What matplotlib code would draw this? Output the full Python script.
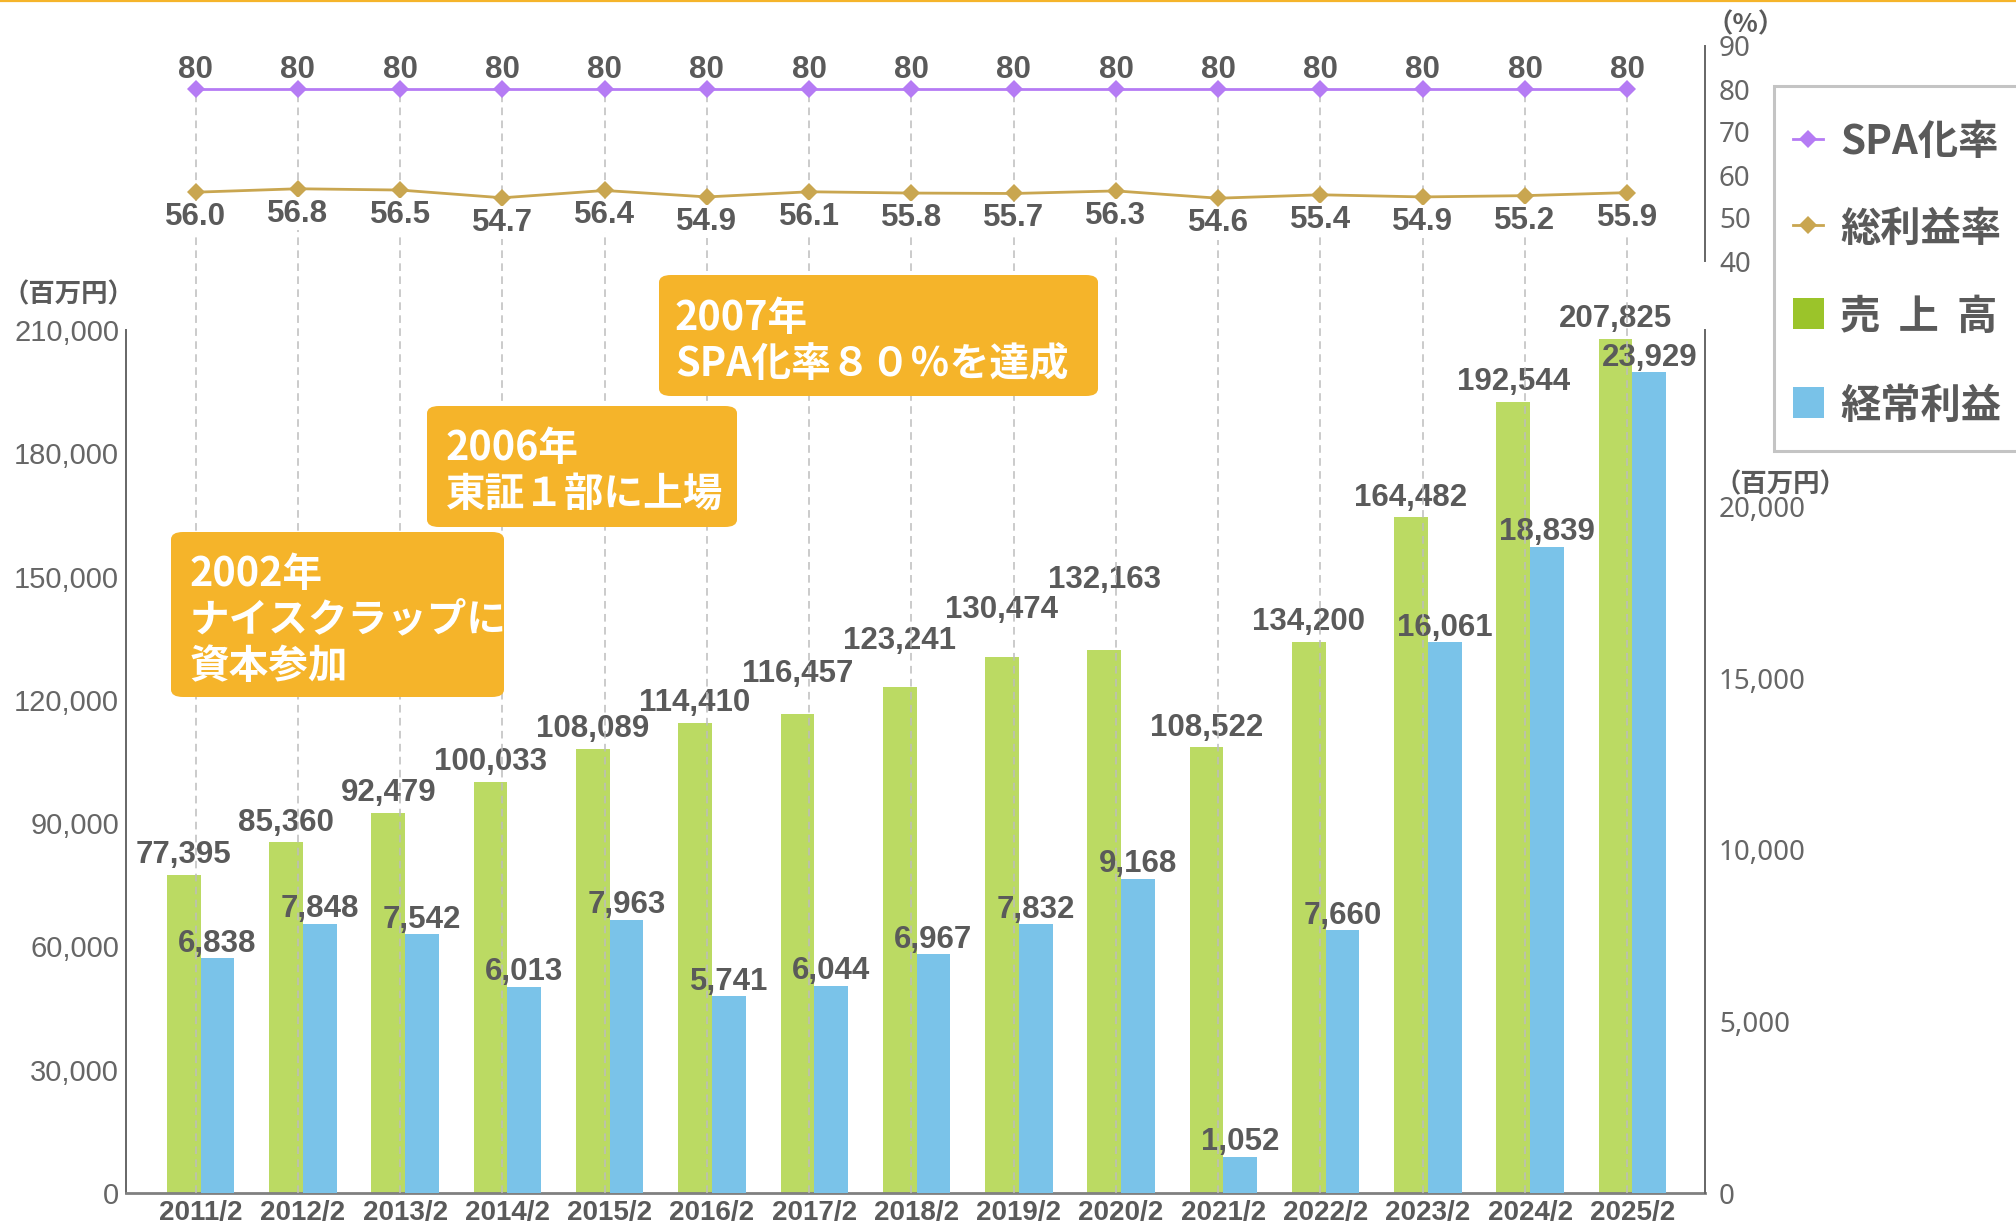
import matplotlib
matplotlib.use('Agg')
import matplotlib.pyplot as plt
from matplotlib.patches import FancyBboxPatch, Rectangle
from matplotlib.lines import Line2D
import numpy as np

# ---------------- data ----------------
categories = ['2011/2', '2012/2', '2013/2', '2014/2', '2015/2', '2016/2', '2017/2', '2018/2',
              '2019/2', '2020/2', '2021/2', '2022/2', '2023/2', '2024/2', '2025/2']
sales = [77395, 85360, 92479, 100033, 108089, 114410, 116457, 123241,
         130474, 132163, 108522, 134200, 164482, 192544, 207825]
ordinary_profit = [6838, 7848, 7542, 6013, 7963, 5741, 6044, 6967,
                   7832, 9168, 1052, 7660, 16061, 18839, 23929]
spa_ratio = [80, 80, 80, 80, 80, 80, 80, 80, 80, 80, 80, 80, 80, 80, 80]
gross_margin = [56.0, 56.8, 56.5, 54.7, 56.4, 54.9, 56.1, 55.8,
                55.7, 56.3, 54.6, 55.4, 54.9, 55.2, 55.9]
left_ticks = [0, 30000, 60000, 90000, 120000, 150000, 180000, 210000]
right_ticks = [0, 5000, 10000, 15000, 20000]
pct_ticks = [40, 50, 60, 70, 80, 90]
milestones = [['2002年', 'ナイスクラップに', '資本参加'],
              ['2006年', '東証１部に上場'],
              ['2007年', 'SPA化率８０％を達成']]
legend_labels = ['SPA化率', '総利益率', '売  上  高', '経常利益']

# ---------------- style / layout ----------------
W, H, DPI = 2016, 1225, 100
GREEN = '#BBDA63'
BLUE = '#7AC3E9'
PURPLE = '#B57BF4'
GOLD = '#C9A650'
ORANGE = '#F5B42A'
TXT = '#5A5A5A'
TICK = '#666666'
CJK = ['Noto Sans CJK JP', 'DejaVu Sans']
NUM = ['Liberation Sans', 'DejaVu Sans']

def fx(px):
    return px / W

def fy(py):
    return 1 - py / H

fig = plt.figure(figsize=(W / DPI, H / DPI), dpi=DPI)

# plot region in pixels
L, R, T, B = 126, 1705, 330, 1193
xlim = (-0.73, 14.71)

ax = fig.add_axes([fx(L), fy(B), (R - L) / W, (B - T) / H])
ax.set_zorder(1)
ax2 = ax.twinx()
ax2.set_zorder(2)
ax2.patch.set_visible(False)

PT = 46  # top of the percent axes (pixel)
px_per_pct = 4.3
pct_top = 90
pct_bot = pct_top - (B - PT) / px_per_pct
axp = fig.add_axes([fx(L), fy(B), (R - L) / W, (B - PT) / H])
axp.set_zorder(3)
axp.patch.set_visible(False)

x = np.arange(len(categories))
bw = 0.33
xs = x - 0.05  # line/dash positions

# bars
ax.bar(x - bw, sales, width=bw, align='edge', color=GREEN, zorder=2)
ax2.bar(x, ordinary_profit, width=bw, align='edge', color=BLUE, zorder=2)

ax.set_xlim(*xlim)
ax.set_ylim(0, 210000)
ax2.set_ylim(0, 25160)
axp.set_xlim(*xlim)
axp.set_ylim(pct_bot, pct_top)

# bar labels
lab_kw = dict(ha='center', va='baseline', fontsize=22.5, fontweight='bold',
              color=TXT, family=NUM, textcoords='offset points')
sales_extra_px = [0, 0, 0, 0, 0, 0, 21, 26, 27, 50, 0, 0, 0, 0, 0]
for xi, v, ex in zip(x, sales, sales_extra_px):
    ax.annotate(f'{v:,}', (xi - bw / 2, v), xytext=(0, (11.5 + ex) * 0.72), zorder=5, **lab_kw)
for xi, v in zip(x, ordinary_profit):
    ax2.annotate(f'{v:,}', (xi + bw / 2, v), xytext=(0, 6.5 * 0.72), zorder=5, **lab_kw)

# dashed guide lines
axp.vlines(xs, pct_bot, spa_ratio, colors='#BDBDBD', linewidth=1.1,
           linestyles=(0, (5, 3.5)), zorder=1)

# percent lines
axp.plot(xs, spa_ratio, color=PURPLE, lw=2.0, marker='D', markersize=9.5,
         markeredgewidth=0, zorder=4)
axp.plot(xs, gross_margin, color=GOLD, lw=2.0, marker='D', markersize=9.5,
         markeredgewidth=0, zorder=4)
for xi, v in zip(xs, spa_ratio):
    axp.annotate(f'{v}', (xi, v), xytext=(0, 10.5 * 0.72), zorder=6, **lab_kw)
for xi, v in zip(xs, gross_margin):
    axp.annotate(f'{v:.1f}', (xi, v), xytext=(0, -33 * 0.72), zorder=6,
                 bbox=dict(boxstyle='square,pad=0.05', fc='white', ec='none'), **lab_kw)

# spines & ticks
for a in (ax, ax2, axp):
    for s in a.spines.values():
        s.set_visible(False)
ax.spines['left'].set_visible(True)
ax.spines['left'].set_color('#666666')
ax.spines['left'].set_linewidth(1.4)
ax.spines['bottom'].set_visible(True)
ax.spines['bottom'].set_color('#808080')
ax.spines['bottom'].set_linewidth(2.0)
ax2.spines['right'].set_visible(True)
ax2.spines['right'].set_color('#666666')
ax2.spines['right'].set_linewidth(1.4)
axp.spines['right'].set_visible(True)
axp.spines['right'].set_color('#666666')
axp.spines['right'].set_linewidth(1.4)
axp.spines['right'].set_bounds(40, 90)

ax.set_yticks(left_ticks)
ax.set_yticklabels([f'{t:,}' for t in left_ticks], family=NUM, fontsize=21, color=TICK)
ax.tick_params(axis='y', length=0, pad=5)
ax.set_xticks(x)
ax.set_xticklabels(categories, family=NUM, fontsize=20, fontweight='bold', color=TXT)
ax.tick_params(axis='x', length=0, pad=5)

ax2.set_yticks(right_ticks)
ax2.set_yticklabels([f'{t:,}' for t in right_ticks], family=['Noto Sans', 'DejaVu Sans'],
                    fontsize=20, color=TICK)
ax2.tick_params(axis='y', length=0, pad=10)

axp.set_xticks([])
axp.yaxis.tick_right()
axp.set_yticks(pct_ticks)
axp.set_yticklabels([str(t) for t in pct_ticks], family=['Noto Sans', 'DejaVu Sans'],
                    fontsize=20, color=TICK)
axp.tick_params(axis='y', length=0, pad=10)

# unit labels
fig.text(fx(68), fy(295), '（百万円）', ha='center', va='center', family=CJK,
         fontsize=19, fontweight='bold', color=TXT)
fig.text(fx(1714), fy(485), '（百万円）', ha='left', va='center', family=CJK,
         fontsize=19, fontweight='bold', color=TXT)
fig.text(fx(1706), fy(25), '（%）', ha='left', va='center', family=CJK,
         fontsize=19, fontweight='bold', color=TXT)

# milestone boxes (pixel layout)
box_geo = [(171, 532, 504, 697, 190, [574, 620, 666]),
           (427, 406, 737, 527, 446, [449, 494]),
           (659, 275, 1098, 396, 675, [319, 365])]
for lines, (x0, y0, x1, y1, tx, tys) in zip(milestones, box_geo):
    fig.patches.append(FancyBboxPatch((fx(x0), fy(y1)), fx(x1) - fx(x0), fy(y0) - fy(y1),
                                      boxstyle='round,pad=0,rounding_size=0.006',
                                      transform=fig.transFigure, fc=ORANGE, ec='none',
                                      zorder=10))
    for s, ty in zip(lines, tys):
        fig.text(fx(tx), fy(ty), s, ha='left', va='center', family=CJK, fontsize=28.5,
                 fontweight='bold', color='white', zorder=11)

# legend (manual)
fig.patches.append(Rectangle((fx(1774), fy(451)), fx(2060) - fx(1774), fy(86) - fy(451),
                             transform=fig.transFigure, fc='white', ec='#C4C4C4',
                             lw=2.2, zorder=10))
leg_y = [139, 225, 313, 402]
for col, yy in zip([PURPLE, GOLD], leg_y[:2]):
    fig.lines.append(Line2D([fx(1793), fx(1823)], [fy(yy), fy(yy)], transform=fig.transFigure,
                            color=col, lw=2.0, zorder=11))
    fig.lines.append(Line2D([fx(1808)], [fy(yy)], transform=fig.transFigure, color=col,
                            marker='D', markersize=9.5, markeredgewidth=0, zorder=11))
for col, yy in zip(['#9BC42A', '#79C2E8'], leg_y[2:]):
    fig.patches.append(Rectangle((fx(1793), fy(yy + 15.5)), fx(1824) - fx(1793), fy(yy - 15.5) - fy(yy + 15.5),
                                 transform=fig.transFigure, fc=col, ec='none', zorder=11))
for s, yy in zip(legend_labels, leg_y):
    fig.text(fx(1840), fy(yy + 4), s, ha='left', va='center', family=CJK, fontsize=29,
             fontweight='bold', color=TXT, zorder=12)

# top accent line
fig.lines.append(Line2D([0, 1], [fy(1), fy(1)], transform=fig.transFigure,
                        color=ORANGE, lw=1.6, zorder=20))

fig.savefig('out.png', dpi=DPI, facecolor='white')
